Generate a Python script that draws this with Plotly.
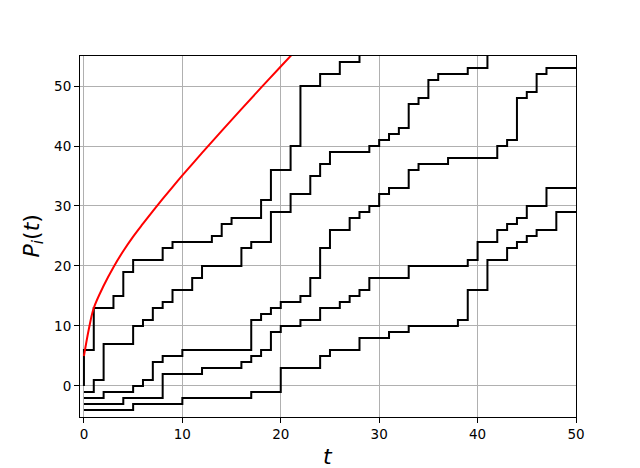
import plotly.graph_objects as go

# step paths: jump times and the value held from each time on
a_t = [0, 0, 1, 3, 4, 5, 8, 9, 13, 14, 15, 18, 19, 21, 22, 24, 26, 28, 50]
a_v = [0, 6, 13, 15, 19, 21, 23, 24, 25, 27, 28, 31, 36, 40, 50, 52, 54, 56, 56]

b_t = [0, 1, 2, 5, 6, 7, 8, 9, 11, 12, 16, 17, 19, 21, 23, 24, 25, 29, 30, 31,
       32, 33, 34, 35, 36, 39, 41, 50]
b_v = [-1, 1, 7, 10, 11, 13, 14, 16, 18, 20, 23, 24, 29, 32, 35, 37, 39, 40, 41, 42,
       43, 47, 48, 51, 52, 53, 56, 56]

c_t = [0, 2, 5, 6, 7, 8, 10, 17, 18, 19, 20, 22, 23, 24, 25, 27, 28, 29, 30, 31,
       33, 34, 37, 42, 43, 44, 45, 46, 47, 50]
c_v = [-2, -1, 0, 1, 4, 5, 6, 11, 12, 13, 14, 15, 18, 23, 26, 28, 29, 30, 32, 33,
       36, 37, 38, 40, 41, 48, 49, 52, 53, 53]

d_t = [0, 4, 8, 12, 16, 17, 18, 19, 20, 22, 24, 26, 27, 28, 29, 33, 39, 40, 42, 43,
       44, 45, 47, 50]
d_v = [-3, -2, 2, 3, 4, 5, 6, 9, 10, 11, 13, 14, 15, 16, 18, 20, 21, 24, 26, 27,
       28, 30, 33, 33]

e_t = [0, 5, 10, 17, 20, 24, 25, 28, 31, 33, 38, 39, 41, 43, 44, 45, 46, 48, 50]
e_v = [-4, -3, -2, -1, 3, 5, 6, 8, 9, 10, 11, 16, 21, 23, 24, 25, 26, 29, 29]

# red reference curve
red_t = [0, 0.5, 1, 2, 3, 4, 5, 6, 7, 8, 9, 10, 12, 14, 16, 18, 20, 21.5]
red_v = [5, 9.5, 13, 16.7, 19.8, 22.5, 24.9, 27.05, 29.14, 31.17, 33.15, 35.09,
         38.85, 42.53, 46.15, 49.72, 53.25, 55.88]

fig = go.Figure()

for t, v in [(a_t, a_v), (b_t, b_v), (c_t, c_v), (d_t, d_v), (e_t, e_v)]:
    fig.add_trace(go.Scatter(
        x=t, y=v, mode="lines", line_shape="hv",
        line=dict(color="black", width=2),
        showlegend=False,
    ))

fig.add_trace(go.Scatter(
    x=red_t, y=red_v, mode="lines", line_shape="spline",
    line=dict(color="red", width=2),
    showlegend=False,
))

axis_common = dict(
    showline=True, linecolor="black", linewidth=1, mirror=True,
    ticks="outside", ticklen=5, tickcolor="black", tickwidth=1,
    showgrid=True, gridcolor="#b0b0b0", gridwidth=1,
    zeroline=False, automargin=False,
    tickfont=dict(family="DejaVu Sans", size=13.5, color="black"),
)

fig.update_xaxes(range=[-0.4, 50], tickvals=[0, 10, 20, 30, 40, 50], **axis_common)
fig.update_yaxes(range=[-5.17, 55], tickvals=[0, 10, 20, 30, 40, 50], **axis_common)

# axis labels placed as in the reference
label_font = dict(family="DejaVu Sans", size=22, color="black")
fig.add_annotation(
    text="<i>t</i>", xref="paper", yref="paper", x=0.5, y=0,
    xanchor="center", yanchor="middle", yshift=-39,
    showarrow=False, font=label_font,
)
fig.add_annotation(
    text="<i>P</i><sub><i>i</i></sub>(<i>t</i>)", xref="paper", yref="paper",
    x=0, y=0.5, xanchor="center", yanchor="middle", xshift=-47, textangle=-90,
    showarrow=False, font=label_font,
)

# page body has an 8px margin, so the figure is shrunk by that much
fig.update_layout(
    width=632, height=460,
    margin=dict(l=72, r=64, t=48, b=51),
    paper_bgcolor="white", plot_bgcolor="white",
    showlegend=False,
)

fig.write_html("out.html")
